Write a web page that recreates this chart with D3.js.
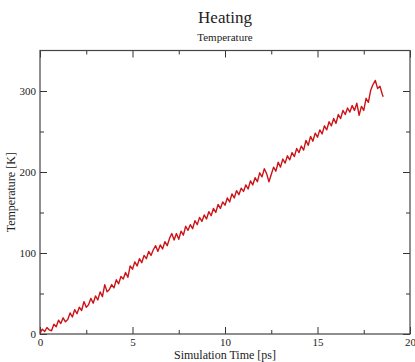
<!DOCTYPE html>
<html>
<script src="https://d3js.org/d3.v7.min.js"></script>
<style>
    body { margin: 0; background: #fff; }
    .domain { display: none; }
    .tick line { stroke: #333; stroke-width: 1px; }
    .tick text { font-size: 11px; font-family: "Liberation Serif", serif; fill: #222; }
    .title { font-family: "Liberation Serif", serif; fill: #222; }
</style>

<body></body>
<script>
    const width = 415,
        height = 362;
    const margin = {top: 50.5, right: 5, bottom: 28, left: 40};

    // simulation time [ps] and temperature [K]
    const time = [0, 0.125, 0.25, 0.375, 0.5, 0.625, 0.75, 0.875, 1, 1.125, 1.25, 1.375, 1.5, 1.625, 1.75, 1.875,
        2, 2.125, 2.25, 2.375, 2.5, 2.625, 2.75, 2.875, 3, 3.125, 3.25, 3.375, 3.5, 3.625, 3.75, 3.875,
        4, 4.125, 4.25, 4.375, 4.5, 4.625, 4.75, 4.875, 5, 5.125, 5.25, 5.375, 5.5, 5.625, 5.75, 5.875,
        6, 6.125, 6.25, 6.375, 6.5, 6.625, 6.75, 6.875, 7, 7.125, 7.25, 7.375, 7.5, 7.625, 7.75, 7.875,
        8, 8.125, 8.25, 8.375, 8.5, 8.625, 8.75, 8.875, 9, 9.125, 9.25, 9.375, 9.5, 9.625, 9.75, 9.875,
        10, 10.125, 10.25, 10.375, 10.5, 10.625, 10.75, 10.875, 11, 11.125, 11.25, 11.375, 11.5, 11.625, 11.75, 11.875,
        12, 12.125, 12.25, 12.375, 12.5, 12.625, 12.75, 12.875, 13, 13.125, 13.25, 13.375, 13.5, 13.625, 13.75, 13.875,
        14, 14.125, 14.25, 14.375, 14.5, 14.625, 14.75, 14.875, 15, 15.125, 15.25, 15.375, 15.5, 15.625, 15.75, 15.875,
        16, 16.125, 16.25, 16.375, 16.5, 16.625, 16.75, 16.875, 17, 17.125, 17.25, 17.375, 17.5, 17.625, 17.75, 17.875,
        18, 18.125, 18.25, 18.375, 18.5, 18.55];
    const temperature = [1, 6, 3, 8, 5, 4, 12, 9, 17, 13, 20, 15, 18, 26, 21, 30,
        25, 33, 29, 40, 33, 36, 44, 38, 47, 42, 52, 46, 61, 52, 55, 61,
        57, 67, 62, 71, 68, 76, 70, 84, 80, 89, 84, 93, 88, 97, 93, 102,
        97, 104, 109, 102, 110, 105, 114, 109, 118, 124, 116, 124, 117, 127, 122, 133,
        128, 135, 130, 140, 135, 144, 139, 147, 142, 151, 146, 155, 150, 160, 155, 163,
        159, 168, 163, 173, 168, 177, 172, 180, 176, 184, 179, 189, 184, 193, 188, 199,
        194, 204, 198, 188, 197, 206, 201, 212, 206, 216, 211, 220, 215, 224, 219, 229,
        224, 232, 227, 239, 233, 244, 238, 248, 243, 252, 247, 257, 252, 262, 257, 266,
        260, 271, 266, 276, 271, 279, 274, 282, 276, 285, 270, 281, 276, 291, 286, 301,
        308, 313, 303, 306, 296, 293];

    const xMajor = [0, 5, 10, 15, 20];
    const xMinor = [2.5, 7.5, 12.5, 17.5];
    const yMajor = [0, 100, 200, 300];
    const yMinor = [50, 150, 250];

    const svg = d3.select("body").append("svg").attr("width", width).attr("height", height);

    const x = d3.scaleLinear().domain([0, 20]).range([margin.left, width - margin.right]);
    const y = d3.scaleLinear().domain([0, 350]).range([height - margin.bottom, margin.top]);

    const x0 = x.range()[0], x1 = x.range()[1];
    const y0 = y.range()[0], y1 = y.range()[1];

    // ticks point inward on all four sides
    svg.append("g").attr("transform", `translate(0,${y0})`)
        .call(d3.axisBottom(x).tickValues(xMajor).tickSize(-7).tickPadding(4));
    svg.append("g").attr("transform", `translate(0,${y0})`)
        .call(d3.axisBottom(x).tickValues(xMinor).tickSize(-4).tickFormat(""));
    svg.append("g").attr("transform", `translate(0,${y1})`)
        .call(d3.axisTop(x).tickValues(xMajor).tickSize(-7).tickFormat(""));
    svg.append("g").attr("transform", `translate(0,${y1})`)
        .call(d3.axisTop(x).tickValues(xMinor).tickSize(-4).tickFormat(""));

    svg.append("g").attr("transform", `translate(${x0},0)`)
        .call(d3.axisLeft(y).tickValues(yMajor).tickSize(-7).tickPadding(4));
    svg.append("g").attr("transform", `translate(${x0},0)`)
        .call(d3.axisLeft(y).tickValues(yMinor).tickSize(-4).tickFormat(""));
    svg.append("g").attr("transform", `translate(${x1},0)`)
        .call(d3.axisRight(y).tickValues(yMajor).tickSize(-7).tickFormat(""));
    svg.append("g").attr("transform", `translate(${x1},0)`)
        .call(d3.axisRight(y).tickValues(yMinor).tickSize(-4).tickFormat(""));

    svg.append("rect")
        .attr("x", x0).attr("y", y1)
        .attr("width", x1 - x0).attr("height", y0 - y1)
        .attr("fill", "none").attr("stroke", "#444").attr("stroke-width", 1.2);

    const line = d3.line()
        .x((d, i) => x(time[i]))
        .y(d => y(d));
    svg.append("path")
        .datum(temperature)
        .attr("fill", "none")
        .attr("stroke", "#cc1418")
        .attr("stroke-width", 1.4)
        .attr("stroke-linejoin", "round")
        .attr("d", line);

    svg.append("text").attr("class", "title")
        .attr("x", (x0 + x1) / 2).attr("y", 23)
        .attr("text-anchor", "middle").attr("font-size", 17)
        .text("Heating");
    svg.append("text").attr("class", "title")
        .attr("x", (x0 + x1) / 2).attr("y", 41)
        .attr("text-anchor", "middle").attr("font-size", 11)
        .text("Temperature");
    svg.append("text").attr("class", "title")
        .attr("x", (x0 + x1) / 2).attr("y", 359)
        .attr("text-anchor", "middle").attr("font-size", 12)
        .text("Simulation Time [ps]");
    svg.append("text").attr("class", "title")
        .attr("transform", `translate(15,${(y0 + y1) / 2}) rotate(-90)`)
        .attr("text-anchor", "middle").attr("font-size", 12)
        .text("Temperature [K]");
</script>

</html>
